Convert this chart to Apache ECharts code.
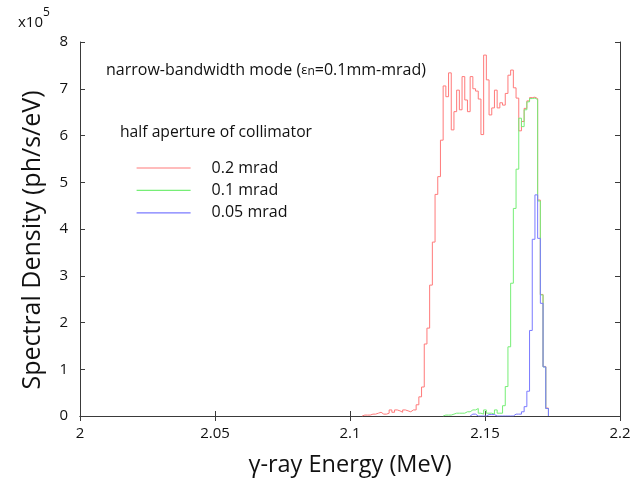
<!DOCTYPE html>
<html>
<head>
<meta charset="utf-8">
<script src="https://cdn.jsdelivr.net/npm/echarts@6/dist/echarts.min.js"></script>
<style>
  html, body { margin: 0; padding: 0; background: #fff; }
  #chart { width: 644px; height: 483px; }
</style>
</head>
<body>
<div id="chart"></div>
<script>
// histogram bins, 1 keV wide, centres in MeV
const binWidth = 0.001
const energy = [
  2.105, 2.106, 2.107, 2.108, 2.109, 2.110, 2.111, 2.112, 2.113, 2.114,
  2.115, 2.116, 2.117, 2.118, 2.119, 2.120, 2.121, 2.122, 2.123, 2.124,
  2.125, 2.126, 2.127, 2.128, 2.129, 2.130, 2.131, 2.132, 2.133, 2.134,
  2.135, 2.136, 2.137, 2.138, 2.139, 2.140, 2.141, 2.142, 2.143, 2.144,
  2.145, 2.146, 2.147, 2.148, 2.149, 2.150, 2.151, 2.152, 2.153, 2.154,
  2.155, 2.156, 2.157, 2.158, 2.159, 2.160, 2.161, 2.162, 2.163, 2.164,
  2.165, 2.166, 2.167, 2.168, 2.169, 2.170, 2.171, 2.172, 2.173
]
// spectral density, x10^5 ph/s/eV
const aperture02 = [
  0.02, 0.02, 0.02, 0.04, 0.04, 0.06, 0.08, 0.04, 0.04, 0.06,
  0.13, 0.08, 0.13, 0.11, 0.08, 0.13, 0.11, 0.09, 0.13, 0.13,
  0.24, 0.41, 0.62, 1.54, 1.88, 2.80, 3.72, 4.74, 5.12, 5.90,
  7.06, 6.83, 7.34, 6.12, 6.51, 6.97, 6.55, 7.26, 6.76, 6.51,
  7.26, 7.00, 6.95, 6.78, 6.02, 7.72, 7.19, 6.44, 6.59, 6.97,
  6.59, 6.70, 6.65, 6.90, 7.29, 7.40, 7.02, 6.80, 6.10, 6.30,
  6.58, 6.74, 6.81, 6.82, 6.79, 4.62, 2.60, 1.06, 0.17
]
const aperture01 = [
  0, 0, 0, 0, 0, 0, 0, 0, 0, 0,
  0, 0, 0, 0, 0, 0, 0, 0, 0, 0,
  0, 0, 0, 0, 0, 0, 0, 0, 0, 0,
  0.02, 0.02, 0.02, 0.04, 0.06, 0.06, 0.06, 0.06, 0.09, 0.09,
  0.13, 0.13, 0.16, 0.06, 0.04, 0.13, 0.06, 0.06, 0.04, 0.13,
  0.06, 0.06, 0.22, 0.63, 1.48, 2.84, 4.44, 5.28, 6.37, 6.19,
  6.55, 6.72, 6.79, 6.80, 6.77, 4.60, 2.59, 1.05, 0.16
]
const aperture005 = [
  0, 0, 0, 0, 0, 0, 0, 0, 0, 0,
  0, 0, 0, 0, 0, 0, 0, 0, 0, 0,
  0, 0, 0, 0, 0, 0, 0, 0, 0, 0,
  0, 0, 0, 0, 0, 0, 0, 0, 0, 0,
  0.04, 0.04, 0, 0, 0, 0, 0.03, 0.03, 0.03, 0,
  0, 0, 0, 0, 0, 0, 0.04, 0.04, 0.04, 0.09,
  0.20, 0.53, 1.83, 3.78, 4.73, 3.80, 2.41, 1.05, 0.16
]
const seriesNames = ['0.2 mrad', '0.1 mrad', '0.05 mrad']
const seriesColors = ['#ff7a7a', '#76ee76', '#7a7aff']
const yTicks = [0, 1, 2, 3, 4, 5, 6, 7, 8]
const xTicks = [2, 2.05, 2.1, 2.15, 2.2]

const font = 'Open Sans'

// turn bin values into step outline points (left edges + closing edge)
function toSteps(values) {
  const first = values.findIndex(v => v > 0)
  const pts = [[energy[first] - binWidth / 2, 0]]
  for (let i = first; i < values.length; i++) {
    pts.push([energy[i] - binWidth / 2, values[i]])
  }
  const lastEdge = energy[energy.length - 1] + binWidth / 2
  pts.push([lastEdge, values[values.length - 1]])
  pts.push([lastEdge, 0])
  return pts
}

const chart = echarts.init(document.getElementById('chart'))

const frameLine = { show: true, lineStyle: { color: '#3a3a3a', width: 1 } }
const innerTick = { show: true, inside: true, length: 5, lineStyle: { color: '#3a3a3a' } }

chart.setOption({
  animation: false,
  grid: { left: 80, right: 24, top: 42, bottom: 67 },
  legend: {
    orient: 'vertical',
    left: 131,
    top: 155,
    itemWidth: 54,
    itemHeight: 14,
    itemGap: 6.4,
    data: seriesNames,
    itemStyle: { opacity: 0 },
    lineStyle: { width: 1.2 },
    textStyle: { fontFamily: font, fontSize: 16, color: '#111', padding: [0, 0, 0, 16] }
  },
  graphic: [
    {
      type: 'text', left: 18, top: 7,
      style: {
        text: '{a|x10}{b|5}',
        rich: {
          a: { fontFamily: font, fontSize: 15, fill: '#111', verticalAlign: 'bottom', lineHeight: 23 },
          b: { fontFamily: font, fontSize: 12, fill: '#111', verticalAlign: 'top', lineHeight: 14 }
        }
      }
    },
    {
      type: 'text', left: 106, top: 62,
      style: {
        text: '{a|narrow-bandwidth mode (}{e|ε}{s|n}{a|=0.1mm-mrad)}',
        rich: {
          a: { fontFamily: font, fontSize: 16, fill: '#111' },
          e: { fontFamily: font, fontSize: 13, fill: '#111' },
          s: { fontFamily: font, fontSize: 12, fill: '#111', padding: [4, 0, 0, 0] }
        }
      }
    },
    {
      type: 'text', left: 120, top: 125,
      style: { text: 'half aperture of collimator', fontFamily: font, fontSize: 15.7, fill: '#111' }
    }
  ],
  xAxis: [
    {
      type: 'value', min: 2, max: 2.2, interval: 0.05,
      name: 'γ-ray Energy (MeV)', nameLocation: 'middle', nameGap: 37,
      nameTextStyle: { fontFamily: font, fontSize: 23.5, color: '#111' },
      axisLine: frameLine, axisTick: innerTick,
      axisLabel: {
        fontFamily: font, fontSize: 15, color: '#111', margin: 10,
        formatter: v => xTicks.includes(+v.toFixed(2)) ? String(+v.toFixed(2)) : ''
      },
      splitLine: { show: false }
    },
    {
      type: 'value', position: 'top', min: 2, max: 2.2, interval: 0.05,
      axisLine: frameLine, axisTick: innerTick, axisLabel: { show: false }, splitLine: { show: false }
    }
  ],
  yAxis: [
    {
      type: 'value', min: 0, max: 8, interval: 1,
      name: 'Spectral Density (ph/s/eV)', nameLocation: 'middle', nameGap: 35,
      nameTextStyle: { fontFamily: font, fontSize: 25, color: '#111', padding: [0, 22, 0, 0] },
      axisLine: frameLine, axisTick: innerTick,
      axisLabel: {
        fontFamily: font, fontSize: 15, color: '#111', margin: 12,
        formatter: v => yTicks.includes(v) ? String(v) : ''
      },
      splitLine: { show: false }
    },
    {
      type: 'value', position: 'right', min: 0, max: 8, interval: 1,
      axisLine: frameLine, axisTick: innerTick, axisLabel: { show: false }, splitLine: { show: false }
    }
  ],
  series: [aperture02, aperture01, aperture005].map((vals, i) => ({
    name: seriesNames[i],
    type: 'line',
    step: 'end',
    symbol: 'none',
    data: toSteps(vals),
    lineStyle: { color: seriesColors[i], width: 1 },
    itemStyle: { color: seriesColors[i] }
  }))
})
</script>
</body>
</html>
